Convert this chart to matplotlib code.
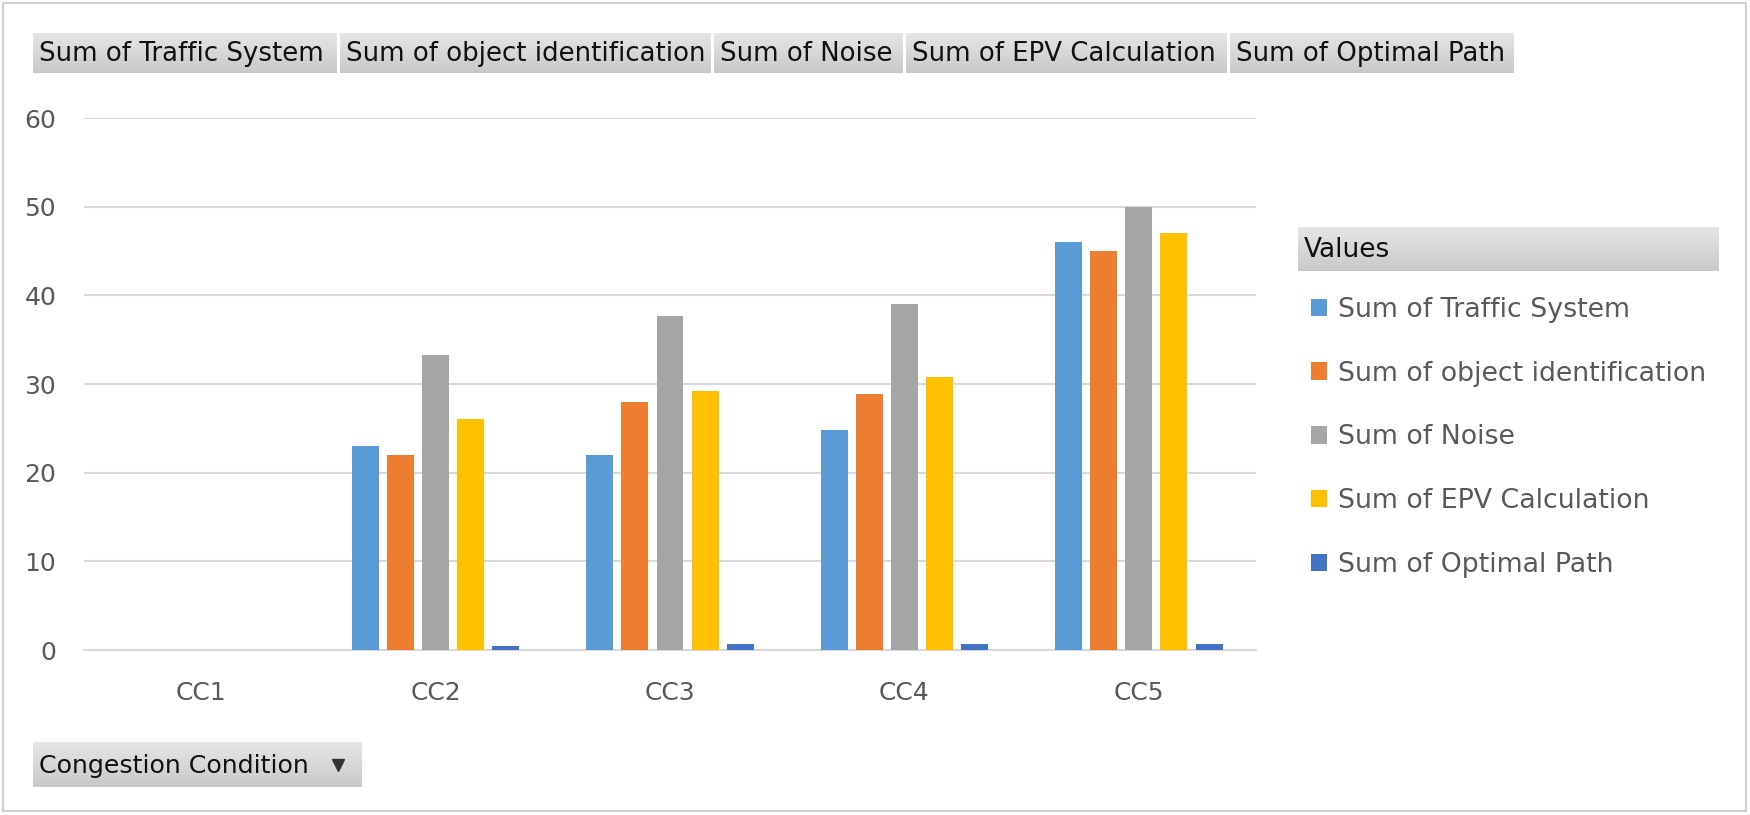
import numpy as np
import matplotlib
matplotlib.use("Agg")
import matplotlib.pyplot as plt
from matplotlib.patches import Rectangle
from matplotlib.colors import LinearSegmentedColormap

# pivot chart data
categories = ["CC1", "CC2", "CC3", "CC4", "CC5"]
series_names = ["Sum of Traffic System", "Sum of object identification", "Sum of Noise",
                "Sum of EPV Calculation", "Sum of Optimal Path"]
traffic = [0, 23, 22, 24.8, 46]
object_id = [0, 22, 28, 28.9, 45]
noise = [0, 33.3, 37.7, 39, 50]
epv = [0, 26, 29.2, 30.8, 47]
optimal = [0, 0.4, 0.7, 0.7, 0.7]
colors = ["#5B9BD5", "#ED7D31", "#A5A5A5", "#FFC000", "#4472C4"]

plt.rcParams['font.family'] = ['DejaVu Sans']

W, H = 1750, 815
fig = plt.figure(figsize=(W / 100, H / 100), dpi=100)

# overlay for the pivot buttons and frame (pixel coords)
bg = fig.add_axes([0, 0, 1, 1], zorder=0)
bg.axis("off")
bg.add_patch(Rectangle((3, 3), W - 7, H - 7, fill=False, ec="#D0D0D0", lw=1.5))
gray_grad = LinearSegmentedColormap.from_list("g", ["#E6E6E6", "#C9C9C9"])
grad = np.linspace(0, 1, 50).reshape(-1, 1)

def button(x0, x1, y0, y1, label, arrow=False, fs=18.7):
    bg.imshow(grad, extent=(x0, x1, y1, y0), cmap=gray_grad, aspect="auto", zorder=1)
    bg.text(x0 + 6, (y0 + y1) / 2 + 1, label, fontsize=fs, color="#111111", va="center", ha="left", zorder=2)
    if arrow:
        bg.plot([x1 - 24], [(y0 + y1) / 2], marker="v", color="#333333", ms=8, zorder=2)

btn_x = [(33, 337), (340, 711), (714, 903), (906, 1227), (1230, 1514)]
for (a, b), name in zip(btn_x, series_names):
    button(a, b, 33, 73, name)
button(33, 362, 742, 787, "Congestion Condition", arrow=True, fs=18.2)
# legend header
button(1298, 1719, 227, 271, "Values", fs=19)
bg.set_xlim(0, W)
bg.set_ylim(H, 0)

# chart
ax = fig.add_axes([84 / W, (H - 650) / H, 1172 / W, (650 - 118) / H], zorder=1)
ax.patch.set_alpha(0)
x = np.arange(len(categories))
step = 0.15
width = 0.115
data = [traffic, object_id, noise, epv, optimal]
bars = []
for i, vals in enumerate(data):
    b = ax.bar(x + (i - 2) * step, vals, width, color=colors[i], lw=0, zorder=3,
               label=series_names[i])
    bars.append(b)

ax.set_xlim(-0.5, 4.5)
ax.set_ylim(0, 60)
ax.set_yticks(range(0, 61, 10))
ax.set_xticks(x)
ax.set_xticklabels(categories)
ax.yaxis.grid(True, color="#D9D9D9", lw=1.5, zorder=0)
for s in ["top", "right", "left"]:
    ax.spines[s].set_visible(False)
ax.spines["bottom"].set_color("#D9D9D9")
ax.spines["bottom"].set_linewidth(1.5)
ax.tick_params(axis="both", length=0, labelsize=18, colors="#595959")
ax.tick_params(axis="x", pad=22)
ax.tick_params(axis="y", pad=20)

leg = ax.legend(handles=bars, loc="upper left", bbox_to_anchor=(1300 / W, 1 - 286 / H),
                bbox_transform=fig.transFigure, frameon=False, fontsize=19.3, handlelength=0.62,
                handleheight=0.62, handletextpad=0.4, labelspacing=1.41, borderaxespad=0)
for t in leg.get_texts():
    t.set_color("#595959")

fig.savefig("out.png", dpi=100)
